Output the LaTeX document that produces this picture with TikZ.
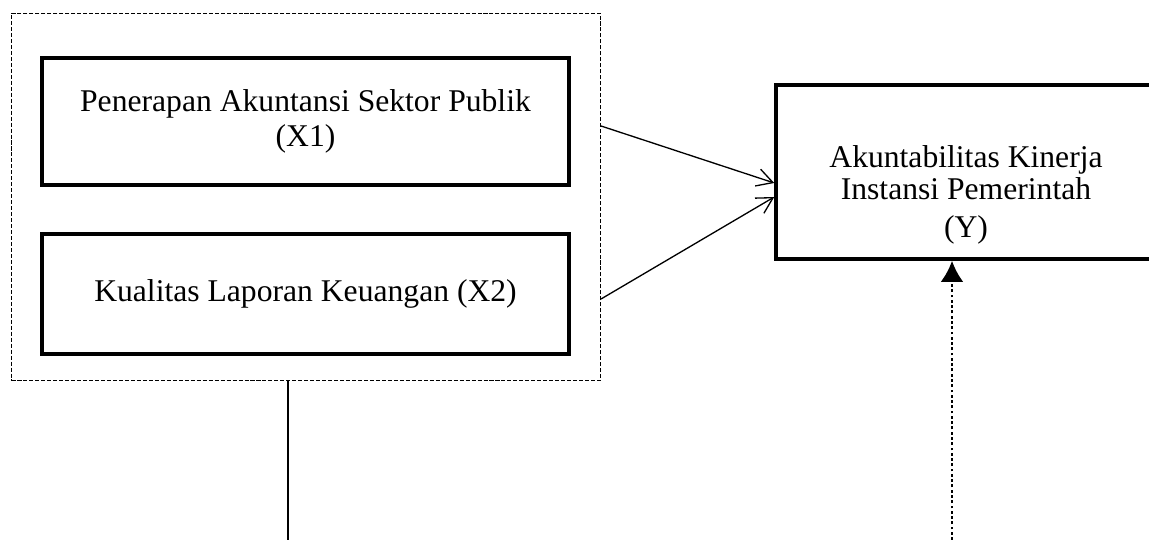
\documentclass[tikz,border=0pt]{standalone}
\usepackage{fontspec}
\setmainfont{Liberation Serif}
\usetikzlibrary{arrows.meta}

\begin{document}
\begin{tikzpicture}[auto,
    every node/.style={font=\fontsize{18}{19.5}\selectfont},
    varbox/.style={draw, line width=2pt, align=center, inner sep=0pt},
    groupbox/.style={draw, line width=0.6pt, dash pattern=on 2.3pt off 1.1pt, inner sep=0pt},
    link/.style={line width=0.75pt, -{Straight Barb[length=9pt,width=10pt]}},
    dotlink/.style={line width=1.6pt, dash pattern=on 1.6pt off 1.4pt,
      -{Latex[length=12pt,width=13pt]}}]
    \useasboundingbox (0,0) rectangle (22.98,10.80);
    \node [groupbox, minimum width=11.78cm, minimum height=7.35cm] (grp) at (6.12, 6.864) {};
    \node [varbox, minimum width=10.54cm, minimum height=2.54cm] (x1) at (6.11, 8.37)
      {Penerapan Akuntansi Sektor Publik\\(X1)};
    \node [varbox, minimum width=10.54cm, minimum height=2.40cm] (x2) at (6.11, 4.92)
      {Kualitas Laporan Keuangan (X2)};
    \node [varbox, minimum width=7.60cm, minimum height=3.48cm] (y) at (19.32, 7.36) {};
    \node [align=center, font=\fontsize{18}{18}\selectfont] (ytext) at (19.32, 6.90)
      {Akuntabilitas Kinerja\\Instansi Pemerintah\\[4pt](Y)};
    \coordinate (d1) at (5.76, 0.00);
    \coordinate (d2) at (19.04, 0.00);
    \draw [link] ([yshift=-0.09cm]x1 -| grp.east) to ([yshift=-0.22cm]y.west);
    \draw [link] ([yshift=-0.10cm]x2 -| grp.east) to ([yshift=-0.50cm]y.west);
    \draw [line width=0.75pt] (d1 |- grp.south) to (d1);
    \draw [dotlink] (d2) to (d2 |- y.south);
  \end{tikzpicture}
\end{document}
